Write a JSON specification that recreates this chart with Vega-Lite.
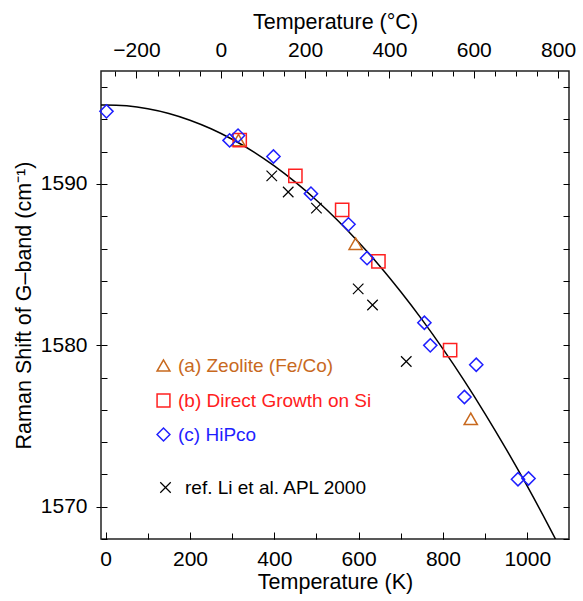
{
  "$schema": "https://vega.github.io/schema/vega-lite/v6.json",
  "width": 468,
  "height": 468,
  "autosize": {"type": "none"},
  "padding": {"left": 101, "top": 71, "right": 14, "bottom": 62},
  "background": "white",
  "config": {
    "font": "Liberation Sans",
    "view": {"stroke": "#222222", "strokeWidth": 1.5},
    "axis": {
      "grid": false,
      "domain": false,
      "tickColor": "black",
      "tickWidth": 1,
      "labelColor": "black",
      "titleColor": "black",
      "labelFont": "Liberation Sans",
      "titleFont": "Liberation Sans",
      "labelFontSize": 21,
      "titleFontSize": 21.5,
      "titleFontWeight": "normal",
      "labelFlush": false,
      "labelOverlap": false,
      "format": "d"
    },
    "legend": {"labelFont": "Liberation Sans", "padding": 0, "labelFontSize": 19, "labelLimit": 400, "orient": "none", "title": null}
  },
  "datasets": {
    "curve": [
      {"T": -11, "shift": 1594.9},
      {"T": 0, "shift": 1594.9},
      {"T": 50, "shift": 1594.84},
      {"T": 100, "shift": 1594.66},
      {"T": 150, "shift": 1594.37},
      {"T": 200, "shift": 1593.95},
      {"T": 250, "shift": 1593.42},
      {"T": 300, "shift": 1592.77},
      {"T": 350, "shift": 1592.01},
      {"T": 400, "shift": 1591.12},
      {"T": 450, "shift": 1590.11},
      {"T": 500, "shift": 1588.99},
      {"T": 550, "shift": 1587.75},
      {"T": 600, "shift": 1586.39},
      {"T": 650, "shift": 1584.92},
      {"T": 700, "shift": 1583.32},
      {"T": 750, "shift": 1581.61},
      {"T": 800, "shift": 1579.78},
      {"T": 850, "shift": 1577.83},
      {"T": 900, "shift": 1575.76},
      {"T": 950, "shift": 1573.57},
      {"T": 1000, "shift": 1571.27},
      {"T": 1050, "shift": 1568.85},
      {"T": 1080, "shift": 1567.34}
    ],
    "zeolite": [
      {"T": 315, "shift": 1592.72, "series": "(a) Zeolite (Fe/Co)"},
      {"T": 593, "shift": 1586.3, "series": "(a) Zeolite (Fe/Co)"},
      {"T": 866, "shift": 1575.45, "series": "(a) Zeolite (Fe/Co)"}
    ],
    "direct": [
      {"T": 318, "shift": 1592.72, "series": "(b) Direct Growth on Si"},
      {"T": 450, "shift": 1590.5, "series": "(b) Direct Growth on Si"},
      {"T": 561, "shift": 1588.4, "series": "(b) Direct Growth on Si"},
      {"T": 647, "shift": 1585.2, "series": "(b) Direct Growth on Si"},
      {"T": 817, "shift": 1579.7, "series": "(b) Direct Growth on Si"}
    ],
    "hipco": [
      {"T": 2, "shift": 1594.5, "series": "(c) HiPco"},
      {"T": 294, "shift": 1592.7, "series": "(c) HiPco"},
      {"T": 314, "shift": 1593.0, "series": "(c) HiPco"},
      {"T": 398, "shift": 1591.7, "series": "(c) HiPco"},
      {"T": 487, "shift": 1589.4, "series": "(c) HiPco"},
      {"T": 576, "shift": 1587.5, "series": "(c) HiPco"},
      {"T": 620, "shift": 1585.4, "series": "(c) HiPco"},
      {"T": 756, "shift": 1581.4, "series": "(c) HiPco"},
      {"T": 770, "shift": 1580.0, "series": "(c) HiPco"},
      {"T": 851, "shift": 1576.8, "series": "(c) HiPco"},
      {"T": 879, "shift": 1578.8, "series": "(c) HiPco"},
      {"T": 978, "shift": 1571.7, "series": "(c) HiPco"},
      {"T": 1003, "shift": 1571.75, "series": "(c) HiPco"}
    ],
    "ref": [
      {"T": 394, "shift": 1590.5, "series": "ref. Li et al. APL 2000"},
      {"T": 433, "shift": 1589.5, "series": "ref. Li et al. APL 2000"},
      {"T": 500, "shift": 1588.5, "series": "ref. Li et al. APL 2000"},
      {"T": 599, "shift": 1583.5, "series": "ref. Li et al. APL 2000"},
      {"T": 633, "shift": 1582.5, "series": "ref. Li et al. APL 2000"},
      {"T": 713, "shift": 1579.0, "series": "ref. Li et al. APL 2000"}
    ],
    "celsius": [{"C": 0}]
  },
  "layer": [
    {
      "data": {"name": "curve"},
      "mark": {"type": "line", "color": "black", "strokeWidth": 1.5, "interpolate": "monotone", "clip": true},
      "encoding": {
        "x": {
          "field": "T", "type": "quantitative",
          "scale": {"domain": [-11, 1099], "nice": false, "zero": false},
          "axis": {"orient": "bottom", "values": [0, 200, 400, 600, 800, 1000], "tickSize": -7, "labelPadding": 16, "title": "Temperature (K)", "titlePadding": 2}
        },
        "y": {
          "field": "shift", "type": "quantitative",
          "scale": {"domain": [1568, 1597], "nice": false, "zero": false},
          "axis": {"orient": "left", "values": [1570, 1580, 1590], "tickSize": 5, "labelPadding": 9, "title": "Raman Shift of G–band (cm⁻¹)", "titlePadding": 5}
        }
      }
    },
    {
      "data": {"name": "zeolite"},
      "mark": {"type": "point", "filled": false, "strokeWidth": 1.5, "size": 175, "opacity": 1, "color": "#c8691e"},
      "encoding": {
        "x": {
          "field": "T", "type": "quantitative",
          "scale": {"domain": [-11, 1099], "nice": false, "zero": false},
          "axis": {"orient": "bottom", "values": [0, 100, 200, 300, 400, 500, 600, 700, 800, 900, 1000], "tickSize": -6, "labels": false, "title": null}
        },
        "y": {
          "field": "shift", "type": "quantitative",
          "scale": {"domain": [1568, 1597], "nice": false, "zero": false},
          "axis": {"orient": "left", "values": [1568, 1570, 1572, 1574, 1576, 1578, 1580, 1582, 1584, 1586, 1588, 1590, 1592, 1594, 1596], "tickSize": -6, "labels": false, "title": null}
        },
        "shape": {
          "field": "series", "type": "nominal",
          "scale": {"domain": ["(a) Zeolite (Fe/Co)"], "range": ["triangle-up"]},
          "legend": {"legendX": 53, "legendY": 285, "labelOffset": 5, "symbolSize": 165, "symbolStrokeWidth": 1.5, "symbolStrokeColor": "#c8691e", "labelColor": "#c8691e"}
        }
      }
    },
    {
      "data": {"name": "direct"},
      "mark": {"type": "point", "filled": false, "strokeWidth": 1.5, "size": 175, "opacity": 1, "color": "#ff2020"},
      "encoding": {
        "x": {
          "field": "T", "type": "quantitative",
          "scale": {"domain": [-11, 1099], "nice": false, "zero": false},
          "axis": null
        },
        "y": {
          "field": "shift", "type": "quantitative",
          "scale": {"domain": [1568, 1597], "nice": false, "zero": false},
          "axis": null
        },
        "shape": {
          "field": "series", "type": "nominal",
          "scale": {"domain": ["(b) Direct Growth on Si"], "range": ["square"]},
          "legend": {"legendX": 53, "legendY": 320, "labelOffset": 5, "symbolSize": 165, "symbolStrokeWidth": 1.5, "symbolStrokeColor": "#ff2020", "labelColor": "#ff2020"}
        }
      }
    },
    {
      "data": {"name": "hipco"},
      "mark": {"type": "point", "filled": false, "strokeWidth": 1.5, "size": 175, "opacity": 1, "color": "#1f1fff"},
      "encoding": {
        "x": {
          "field": "T", "type": "quantitative",
          "scale": {"domain": [-11, 1099], "nice": false, "zero": false},
          "axis": null
        },
        "y": {
          "field": "shift", "type": "quantitative",
          "scale": {"domain": [1568, 1597], "nice": false, "zero": false},
          "axis": null
        },
        "shape": {
          "field": "series", "type": "nominal",
          "scale": {"domain": ["(c) HiPco"], "range": ["diamond"]},
          "legend": {"legendX": 53, "legendY": 354, "labelOffset": 5, "symbolSize": 165, "symbolStrokeWidth": 1.5, "symbolStrokeColor": "#1f1fff", "labelColor": "#1f1fff"}
        }
      }
    },
    {
      "data": {"name": "ref"},
      "mark": {"type": "point", "filled": false, "color": "black", "strokeWidth": 1.2, "size": 110, "opacity": 1},
      "encoding": {
        "x": {
          "field": "T", "type": "quantitative",
          "scale": {"domain": [-11, 1099], "nice": false, "zero": false},
          "axis": null
        },
        "y": {
          "field": "shift", "type": "quantitative",
          "scale": {"domain": [1568, 1597], "nice": false, "zero": false},
          "axis": {"orient": "right", "values": [1568, 1570, 1572, 1574, 1576, 1578, 1580, 1582, 1584, 1586, 1588, 1590, 1592, 1594, 1596], "tickSize": -6, "labels": false, "title": null}
        },
        "shape": {
          "field": "series", "type": "nominal",
          "scale": {"domain": ["ref. Li et al. APL 2000"], "range": ["M-1,-1L1,1M-1,1L1,-1"]},
          "legend": {"legendX": 55, "legendY": 407, "labelOffset": 10, "symbolSize": 110, "symbolStrokeWidth": 1.2, "symbolStrokeColor": "black", "labelColor": "black"}
        }
      }
    },
    {
      "data": {"name": "celsius"},
      "mark": {"type": "point", "opacity": 0},
      "encoding": {
        "x": {
          "field": "C", "type": "quantitative",
          "scale": {"domain": [-284.15, 825.85], "nice": false, "zero": false},
          "axis": {"orient": "top", "values": [-200, 0, 200, 400, 600, 800], "tickSize": -7, "labelPadding": 18, "title": "Temperature (°C)", "titlePadding": 6}
        }
      }
    },
    {
      "data": {"name": "celsius"},
      "mark": {"type": "point", "opacity": 0},
      "encoding": {
        "x": {
          "field": "C", "type": "quantitative",
          "scale": {"domain": [-284.15, 825.85], "nice": false, "zero": false},
          "axis": {"orient": "top", "values": [-250, -200, -150, -100, -50, 0, 50, 100, 150, 200, 250, 300, 350, 400, 450, 500, 550, 600, 650, 700, 750, 800], "tickSize": -5, "labels": false, "title": null}
        }
      }
    }
  ],
  "resolve": {
    "scale": {"x": "independent", "shape": "independent"},
    "axis": {"x": "independent", "y": "independent"}
  }
}
